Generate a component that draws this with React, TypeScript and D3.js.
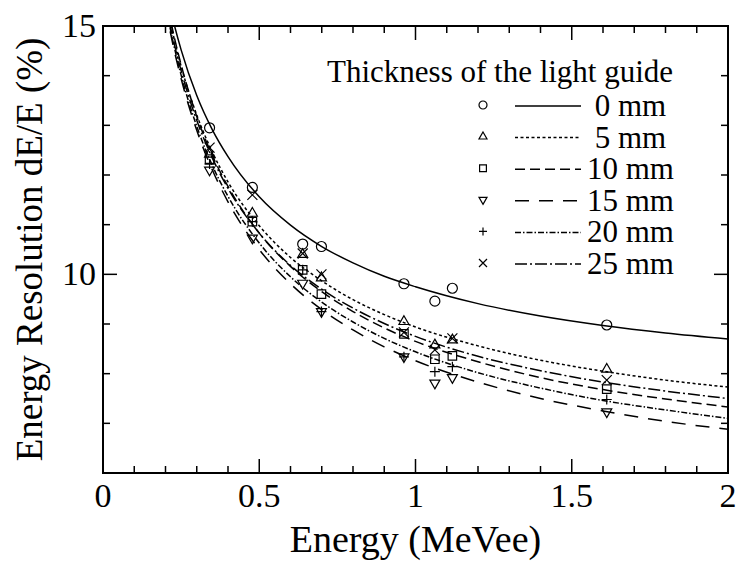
import * as d3 from 'd3';

const width = 736;
const height = 565;
const margin = { top: 26, right: 8, bottom: 92, left: 103 };
const font = "'Liberation Serif', 'DejaVu Serif', serif";

// measured energies (MeVee) of the data points
const energies = [0.341, 0.478, 0.639, 0.699, 0.963, 1.062, 1.118, 1.612];
const res0 = [12.95, 11.75, 10.61, 10.56, 9.81, 9.46, 9.72, 8.98];
const res5 = [12.42, 11.23, 10.40, 9.93, 9.05, 8.58, 8.68, 8.09];
const res10 = [12.32, 11.06, 10.09, 9.60, 8.80, 8.29, 8.36, 7.69];
const res15 = [12.10, 10.73, 9.82, 9.25, 8.34, 7.81, 7.92, 7.23];
const res20 = [12.22, 11.06, 10.09, 9.25, 8.34, 8.04, 8.14, 7.48];
const res25 = [12.55, 11.60, 10.42, 10.00, 8.83, 8.48, 8.71, 7.87];

// fitted curves
const fitE = [0.2, 0.225, 0.25, 0.3, 0.35, 0.4, 0.5, 0.6, 0.7, 0.8, 0.9, 1.0, 1.2, 1.4, 1.6, 1.8, 2.0];
const fit0 = [15.79, 15.10, 14.52, 13.60, 12.91, 12.37, 11.56, 10.99, 10.56, 10.23, 9.96, 9.75, 9.41, 9.16, 8.97, 8.82, 8.70];
const fit5 = [15.56, 14.82, 14.19, 13.21, 12.46, 11.86, 10.98, 10.34, 9.87, 9.49, 9.19, 8.94, 8.56, 8.27, 8.05, 7.87, 7.73];
const fit10 = [15.64, 14.86, 14.22, 13.18, 12.39, 11.77, 10.83, 10.16, 9.65, 9.25, 8.92, 8.65, 8.24, 7.92, 7.68, 7.49, 7.33];
const fit15 = [15.37, 14.59, 13.94, 12.90, 12.10, 11.46, 10.50, 9.81, 9.29, 8.88, 8.54, 8.26, 7.83, 7.50, 7.25, 7.04, 6.88];
const fit20 = [15.43, 14.66, 14.01, 12.98, 12.19, 11.57, 10.63, 9.95, 9.44, 9.04, 8.71, 8.44, 8.02, 7.71, 7.46, 7.27, 7.10];
const fit25 = [15.47, 14.72, 14.10, 13.10, 12.34, 11.73, 10.83, 10.18, 9.70, 9.32, 9.01, 8.75, 8.35, 8.06, 7.83, 7.65, 7.50];

const labels = ['0 mm', '5 mm', '10 mm', '15 mm', '20 mm', '25 mm'];
const xTickLabels = ['0', '0.5', '1', '1.5', '2'];
const yTickLabels = ['10', '15'];

const series = [
    { label: labels[0], marker: 'circle', dash: null, points: res0, fit: fit0 },
    { label: labels[1], marker: 'triangle', dash: '3,2.5', points: res5, fit: fit5 },
    { label: labels[2], marker: 'square', dash: '10,5', points: res10, fit: fit10 },
    { label: labels[3], marker: 'triangleDown', dash: '14,10', points: res15, fit: fit15 },
    { label: labels[4], marker: 'plus', dash: '6,2,1.5,2', points: res20, fit: fit20 },
    { label: labels[5], marker: 'cross', dash: '12,3,2,3', points: res25, fit: fit25 },
];

function markerPath(kind, s) {
    // s = half size
    switch (kind) {
        case 'circle':
            return `M${s},0A${s},${s} 0 1,1 ${-s},0A${s},${s} 0 1,1 ${s},0Z`;
        case 'triangle':
            return `M0,${-s * 1.15}L${s},${s * 0.6}L${-s},${s * 0.6}Z`;
        case 'triangleDown':
            return `M0,${s * 1.15}L${s},${-s * 0.6}L${-s},${-s * 0.6}Z`;
        case 'square':
            return `M${-s * 0.85},${-s * 0.85}H${s * 0.85}V${s * 0.85}H${-s * 0.85}Z`;
        case 'plus':
            return `M${-s},0H${s}M0,${-s}V${s}`;
        case 'cross':
            return `M${-s},${-s}L${s},${s}M${s},${-s}L${-s},${s}`;
        default:
            return '';
    }
}

export default function App() {
    const x = d3.scaleLinear().domain([0, 2]).range([margin.left, width - margin.right]);
    const y = d3.scaleLinear().domain([6, 15]).range([height - margin.bottom, margin.top]);
    const x0 = x.range()[0], x1 = x.range()[1];
    const y0 = y.range()[0], y1 = y.range()[1];

    const line = d3.line()
        .x(d => x(d[0]))
        .y(d => y(d[1]))
        .curve(d3.curveMonotoneX);

    const xTicks = d3.range(0, 21).map(i => i / 10);
    const yTicks = d3.range(6, 16);

    return (
        <svg width={width} height={height}
            style={{ position: 'absolute', left: 0, top: 0, background: '#fff', fontFamily: font }}>
            <defs>
                <clipPath id="plotArea">
                    <rect x={x0} y={y1} width={x1 - x0} height={y0 - y1} />
                </clipPath>
            </defs>

            {/* ticks, inside on all four sides */}
            <g stroke="#000" strokeWidth={1.5}>
                {xTicks.map((t, i) => {
                    const len = i % 5 === 0 ? 14 : 7;
                    return (
                        <g key={'xt' + i}>
                            <line x1={x(t)} x2={x(t)} y1={y0} y2={y0 - len} />
                            <line x1={x(t)} x2={x(t)} y1={y1} y2={y1 + len} />
                        </g>
                    );
                })}
                {yTicks.map(t => {
                    const len = t % 5 === 0 ? 14 : 7;
                    return (
                        <g key={'yt' + t}>
                            <line x1={x0} x2={x0 + len} y1={y(t)} y2={y(t)} />
                            <line x1={x1} x2={x1 - len} y1={y(t)} y2={y(t)} />
                        </g>
                    );
                })}
            </g>

            {/* fit curves */}
            <g clipPath="url(#plotArea)" fill="none" stroke="#000" strokeWidth={1.5}>
                {series.map(s => (
                    <path key={'f' + s.label} d={line(fitE.map((e, i) => [e, s.fit[i]]))}
                        strokeDasharray={s.dash || undefined} />
                ))}
            </g>

            {/* data points */}
            <g fill="none" stroke="#000" strokeWidth={1.2}>
                {series.map(s => s.points.map((v, i) => (
                    <path key={s.label + i} transform={`translate(${x(energies[i])},${y(v)})`}
                        d={markerPath(s.marker, 5)} />
                )))}
            </g>

            {/* frame */}
            <rect x={x0} y={y1} width={x1 - x0} height={y0 - y1} fill="none" stroke="#000" strokeWidth={2} />

            {/* tick labels */}
            <g style={{ fontSize: 34, fontFamily: font }} fill="#000">
                {xTickLabels.map(l => (
                    <text key={'xl' + l} x={x(+l)} y={y0 + 34} textAnchor="middle">{l}</text>
                ))}
                {yTickLabels.map(l => (
                    <text key={'yl' + l} x={x0 - 7} y={y(+l) + 11} textAnchor="end">{l}</text>
                ))}
            </g>

            {/* axis titles */}
            <text x={(x0 + x1) / 2} y={552} textAnchor="middle" style={{ fontSize: 38, fontFamily: font }}>
                Energy (MeVee)
            </text>
            <text transform={`translate(42,${(y0 + y1) / 2}) rotate(-90)`} textAnchor="middle"
                style={{ fontSize: 37, fontFamily: font }}>
                Energy Resolution dE/E (%)
            </text>

            {/* legend */}
            <g style={{ fontSize: 31, fontFamily: font }}>
                <text x={327} y={82}>Thickness of the light guide</text>
                {series.map((s, i) => {
                    const base = 116 + i * 31.6;
                    return (
                        <g key={'lg' + s.label}>
                            <path transform={`translate(483,${base - 11})`} d={markerPath(s.marker, 4)}
                                fill="none" stroke="#000" strokeWidth={1.2} />
                            <line x1={515} x2={581} y1={base - 10} y2={base - 10} stroke="#000" strokeWidth={1.5}
                                strokeDasharray={s.dash || undefined} />
                            <text x={587} y={base} xmlSpace="preserve">{(s.label.length < 5 ? ' ' : '') + s.label}</text>
                        </g>
                    );
                })}
            </g>
        </svg>
    );
}
